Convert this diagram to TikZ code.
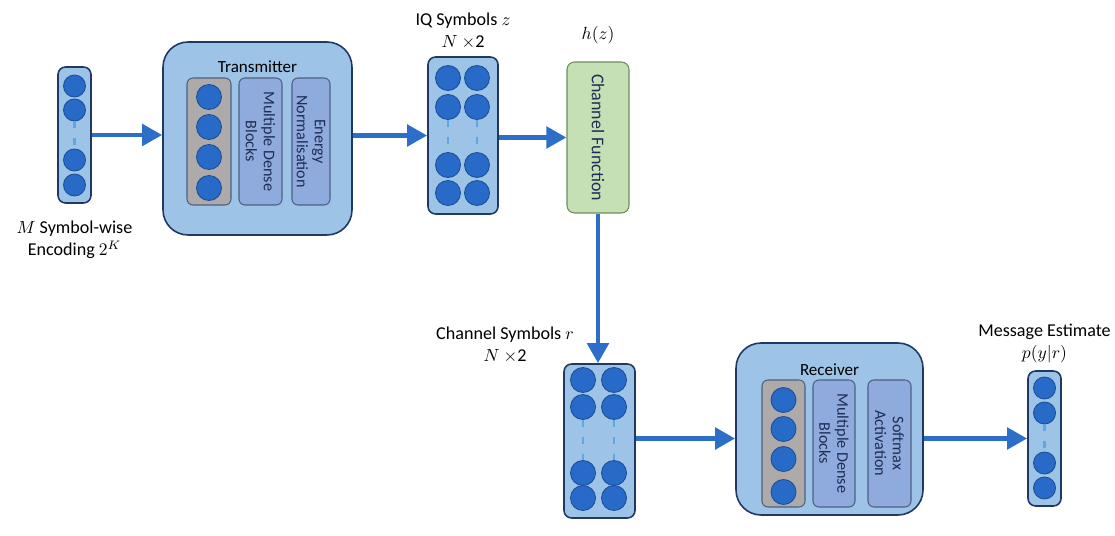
\documentclass[tikz,border=0pt]{standalone}
\usepackage{fontspec}
\setmainfont{Carlito}
\usetikzlibrary{positioning,arrows.meta}

\definecolor{boxblue}{RGB}{157,195,230}
\definecolor{edgeblue}{RGB}{32,56,100}
\definecolor{dotblue}{RGB}{40,106,200}
\definecolor{dotedge}{RGB}{30,78,150}
\definecolor{layergrey}{RGB}{174,170,170}
\definecolor{denseblue}{RGB}{143,170,220}
\definecolor{chgreen}{RGB}{197,224,180}
\definecolor{chedge}{RGB}{110,140,90}
\definecolor{arrowblue}{RGB}{45,110,200}
\definecolor{linkblue}{RGB}{90,170,225}
\definecolor{textnavy}{RGB}{30,45,85}

\begin{document}
\begin{tikzpicture}[
        x=0.02cm, y=-0.02cm,
        vector/.style={
            rectangle,
            rounded corners=0.15cm,
            draw=edgeblue,
            line width=0.9pt,
            fill=boxblue
        },
        block/.style={
            rectangle,
            rounded corners=0.5cm,
            draw=edgeblue,
            line width=0.9pt,
            fill=boxblue
        },
        layer/.style={
            rectangle,
            rounded corners=0.12cm,
            draw=edgeblue!80,
            line width=0.6pt,
            fill=layergrey,
            minimum width=0.88cm,
            minimum height=2.54cm
        },
        dense/.style={
            rectangle,
            rounded corners=0.12cm,
            draw=edgeblue!80,
            line width=0.6pt,
            fill=denseblue,
            minimum height=2.54cm
        },
        upright/.style={
            rotate=-90,
            inner sep=0pt,
            align=center,
            text=textnavy,
            font=\fontsize{9.2}{10.2}\selectfont
        },
        channel/.style={
            rectangle,
            rounded corners=0.15cm,
            draw=chedge,
            line width=0.6pt,
            fill=chgreen
        },
        neuron/.style={
            circle,
            draw=dotedge,
            line width=0.5pt,
            fill=dotblue,
            inner sep=0pt,
            minimum size=0.5cm
        },
        link/.style={
            linkblue,
            line width=1.2pt,
            dash pattern=on 0.14cm off 0.2cm
        },
        flow/.style={
            -{Triangle[length=0.4cm,width=0.42cm]},
            arrowblue,
            line width=2.8pt
        },
        title/.style={
            font=\fontsize{9.7}{11}\selectfont
        },
        caption/.style={
            align=center,
            inner sep=1pt,
            font=\fontsize{10.3}{12.5}\selectfont
        }
    ]

        \useasboundingbox (0,0) rectangle (1115,536);

        % input message
        \node[vector, minimum width=0.66cm, minimum height=2.72cm] (enc) at (74.5,135) {};
        \foreach \y [count=\i] in {86,110,160,185}
            \node[neuron, minimum size=0.44cm] (enc\i) at (74.5,\y) {};
        \draw[link] (enc2) -- (enc3);
        \node[caption, below=3mm of enc] (enclab) {$M$ Symbol-wise\\Encoding $2^K$};

        % transmitter
        \node[block, minimum width=3.78cm, minimum height=3.86cm] (tx) at (257.5,138.5) {};
        \node[title] (txtitle) at ([yshift=-0.5cm]tx.north) {Transmitter};
        \node[layer] (txlayer) at (209,141.5) {};
        \foreach \y [count=\i] in {97,127,157,188}
            \node[neuron] (txn\i) at (209,\y) {};
        \node[dense, minimum width=0.86cm] (txdense) at (260.5,141.5) {};
        \node[upright] (txdensetext) at (txdense) {Multiple Dense\\Blocks};
        \node[dense, minimum width=0.76cm] (txnorm) at (311,141.5) {};
        \node[upright] (txnormtext) at (txnorm) {Energy\\Normalisation};

        % IQ symbols
        \node[vector, minimum width=1.4cm, minimum height=3.14cm] (iq) at (463,135.5) {};
        \foreach \y [count=\i] in {78,107,165,193} {
            \node[neuron] (iqa\i) at (448,\y) {};
            \node[neuron] (iqb\i) at (477,\y) {};
        }
        \draw[link] (iqa2) -- (iqa3);
        \draw[link] (iqb2) -- (iqb3);
        \node[caption, above=1mm of iq] (iqlab) {IQ Symbols $z$\\$N$ $\times$2};

        % channel
        \node[channel, minimum width=1.24cm, minimum height=3.02cm] (chan) at (598,137.5) {};
        \node[upright, font=\fontsize{10.2}{12}\selectfont] (chantext) at (chan) {Channel Function};
        \node[caption, above=3mm of chan] (chanlab) {$h(z)$};

        % channel symbols
        \node[vector, minimum width=1.42cm, minimum height=3.08cm] (chsym) at (599.5,441) {};
        \foreach \y [count=\i] in {380,407,473,498} {
            \node[neuron] (csa\i) at (583,\y) {};
            \node[neuron] (csb\i) at (614,\y) {};
        }
        \draw[link] (csa2) -- (csa3);
        \draw[link] (csb2) -- (csb3);
        \node[caption] (chsymlab) at (505,345) {Channel Symbols $r$\\$N$ $\times$2};

        % receiver
        \node[block, minimum width=3.74cm, minimum height=3.44cm] (rx) at (829.5,429) {};
        \node[title] (rxtitle) at ([yshift=-0.54cm]rx.north) {Receiver};
        \node[layer, minimum width=0.86cm] (rxlayer) at (783.5,443.5) {};
        \foreach \y [count=\i] in {400,429,459,492}
            \node[neuron] (rxn\i) at (783.5,\y) {};
        \node[dense, minimum width=0.84cm] (rxdense) at (834,443.5) {};
        \node[upright] (rxdensetext) at (rxdense) {Multiple Dense\\Blocks};
        \node[dense, minimum width=0.86cm] (rxsoft) at (889.5,443.5) {};
        \node[upright] (rxsofttext) at (rxsoft) {Softmax\\Activation};

        % output estimate
        \node[vector, minimum width=0.66cm, minimum height=2.7cm] (out) at (1044.5,438.5) {};
        \foreach \y [count=\i] in {388,413,463,488}
            \node[neuron, minimum size=0.44cm] (out\i) at (1044.5,\y) {};
        \draw[link] (out2) -- (out3);
        \node[caption, above=1mm of out] (outlab) {Message Estimate\\$p(y|r)$};

        % data flow
        \draw[flow] (enc.east) -- (enc.east -| tx.west);
        \draw[flow] (tx.east |- iq) -- (iq.west);
        \draw[flow] (iq.east |- chan) -- (chan.west);
        \draw[flow] (chan.south) -- (chan.south |- chsym.north);
        \draw[flow] (chsym.east |- out) -- (rx.west |- out);
        \draw[flow] (rx.east |- out) -- (out.west);

    \end{tikzpicture}
\end{document}
